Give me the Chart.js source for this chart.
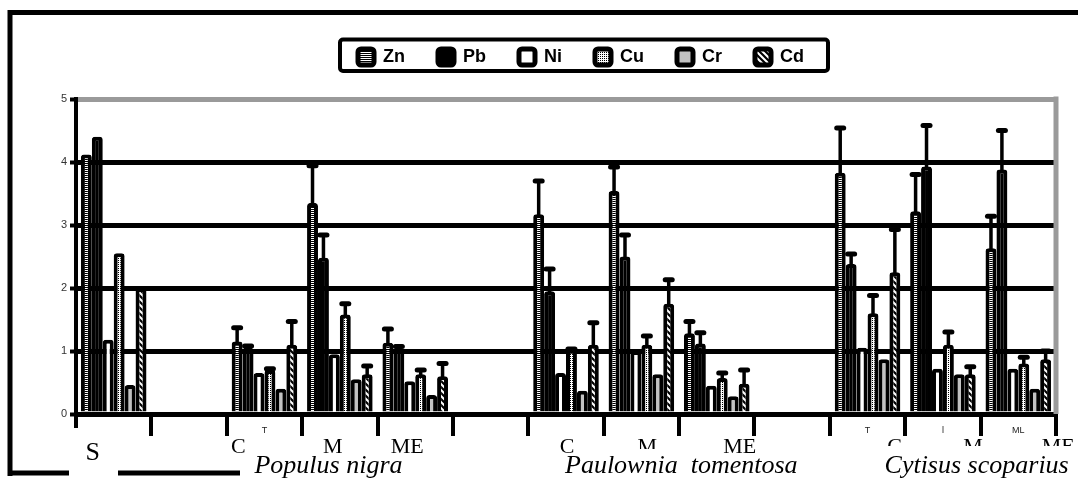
<!DOCTYPE html>
<html>
<head>
<meta charset="utf-8">
<script src="https://cdn.jsdelivr.net/npm/chart.js@4.4.1/dist/chart.umd.min.js"></script>
<style>
  html, body { margin: 0; padding: 0; background: #fff; }
</style>
</head>
<body>
<canvas id="chart_dest" width="1078" height="481"></canvas>
<script>
// categories (empty slots are the gaps between plant groups)
var categories = ['S', '', 'C', 'M', 'ME', '', 'C', 'M', 'ME', '', 'C', 'M', 'ME'];
var smallLabels = ['', '', 'T', '', '', '', '', '', '', '', 'T', 'l', 'ML'];
var groupNames = ['Populus nigra', 'Paulownia  tomentosa', 'Cytisus scoparius'];
var groupFirst = [2, 6, 10];
var metals = ['Zn', 'Pb', 'Ni', 'Cu', 'Cr', 'Cd'];
var yTicks = [0, 1, 2, 3, 4, 5];

// mean values
var zn = [4.12, null, 1.15, 3.35, 1.13, null, 3.17, 3.54, 1.28, null, 3.83, 3.22, 2.63];
var pb = [4.40, null, 1.05, 2.48, 1.02, null, 1.95, 2.50, 1.12, null, 2.38, 3.93, 3.88];
var ni = [1.18, null, 0.65, 0.95, 0.52, null, 0.65, 1.00, 0.45, null, 1.05, 0.72, 0.72];
var cu = [2.55, null, 0.70, 1.58, 0.63, null, 1.02, 1.10, 0.57, null, 1.60, 1.10, 0.80];
var cr = [0.46, null, 0.40, 0.55, 0.30, null, 0.37, 0.63, 0.28, null, 0.87, 0.63, 0.40];
var cd = [2.00, null, 1.10, 0.63, 0.60, null, 1.10, 1.75, 0.48, null, 2.25, 0.63, 0.87];

// error bar lengths
var errZn = [0, 0, 0.22, 0.59, 0.22, 0, 0.53, 0.38, 0.19, 0, 0.71, 0.58, 0.51];
var errPb = [0, 0, 0.03, 0.36, 0.05, 0, 0.35, 0.34, 0.17, 0, 0.16, 0.65, 0.62];
var errNi = [0, 0, 0, 0, 0, 0, 0, 0, 0, 0, 0, 0, 0];
var errCu = [0, 0, 0.02, 0.17, 0.07, 0, 0.01, 0.14, 0.08, 0, 0.28, 0.20, 0.10];
var errCr = [0, 0, 0, 0, 0, 0, 0, 0, 0, 0, 0, 0, 0];
var errCd = [0, 0, 0.37, 0.13, 0.20, 0, 0.35, 0.38, 0.22, 0, 0.68, 0.12, 0.13];
var errors = [errZn, errPb, errNi, errCu, errCr, errCd];

// label placement tweaks (px)
var mainShift = [-21, 0, -26, -7, -8, 0, 1, 6, 23, 0, 27, 30, 40];
var groupShift = [-10, -1, 17];

function makePattern(w, h, draw) {
  var c = document.createElement('canvas');
  c.width = w; c.height = h;
  var g = c.getContext('2d');
  draw(g, w, h);
  return g.createPattern(c, 'repeat');
}

var znFill = makePattern(1, 2, function (g) {
  g.fillStyle = '#000'; g.fillRect(0, 0, 1, 2);
  g.fillStyle = '#fff'; g.fillRect(0, 0, 1, 1);
});
var cuFill = makePattern(2, 2, function (g) {
  g.fillStyle = '#fff'; g.fillRect(0, 0, 2, 2);
  g.fillStyle = '#000'; g.fillRect(0, 0, 1, 1);
});
var cdFill = makePattern(6, 6, function (g) {
  g.fillStyle = '#fff'; g.fillRect(0, 0, 6, 6);
  g.strokeStyle = '#000'; g.lineWidth = 2.2;
  g.beginPath();
  g.moveTo(-1, -1); g.lineTo(7, 7);
  g.moveTo(-4, 2); g.lineTo(4, 10);
  g.moveTo(2, -4); g.lineTo(10, 4);
  g.stroke();
});

var fills = [znFill, '#000', '#fff', cuFill, '#c2c2c2', cdFill];
var series = [zn, pb, ni, cu, cr, cd];

var datasets = metals.map(function (m, i) {
  return {
    label: m,
    data: series[i],
    backgroundColor: fills[i],
    borderColor: '#000',
    borderWidth: 4,
    borderRadius: 3,
    categoryPercentage: 0.87,
    barPercentage: 1.0
  };
});

// error bars drawn from the bar tops
var errorBars = {
  id: 'errorBars',
  afterDatasetsDraw: function (chart) {
    var ctx = chart.ctx, y = chart.scales.y;
    ctx.save();
    ctx.strokeStyle = '#000';
    ctx.lineCap = 'round';
    chart.data.datasets.forEach(function (ds, i) {
      var meta = chart.getDatasetMeta(i);
      meta.data.forEach(function (bar, j) {
        var v = ds.data[j], e = errors[i][j];
        if (v == null || !e) return;
        var top = y.getPixelForValue(v + e);
        ctx.lineWidth = 3.5;
        ctx.beginPath(); ctx.moveTo(bar.x, bar.y); ctx.lineTo(bar.x, top); ctx.stroke();
        ctx.lineWidth = 5;
        ctx.beginPath(); ctx.moveTo(bar.x - 3.5, top); ctx.lineTo(bar.x + 3.5, top); ctx.stroke();
      });
    });
    ctx.restore();
  }
};

// outer frame, gray right edge of the plot
var frame = {
  id: 'frame',
  beforeDraw: function (chart) {
    var ctx = chart.ctx;
    ctx.save();
    ctx.fillStyle = '#fff';
    ctx.fillRect(0, 0, chart.width, chart.height);
    ctx.strokeStyle = '#000';
    ctx.lineWidth = 5;
    ctx.beginPath();
    ctx.moveTo(8, 12.5); ctx.lineTo(chart.width, 12.5);
    ctx.moveTo(10, 10); ctx.lineTo(10, 476);
    ctx.moveTo(8, 473); ctx.lineTo(240, 473);
    ctx.stroke();
    ctx.restore();
  },
  beforeDatasetsDraw: function (chart) {
    var ctx = chart.ctx, a = chart.chartArea;
    ctx.save();
    ctx.strokeStyle = '#9a9a9a';
    ctx.lineWidth = 5;
    ctx.beginPath();
    ctx.moveTo(a.right, a.top - 2.5); ctx.lineTo(a.right, a.bottom);
    ctx.stroke();
    ctx.restore();
  }
};

// move the legend to where it sits in the figure
var legendShift = {
  id: 'legendShift',
  afterLayout: function (chart) {
    var l = chart.legend;
    if (!l) return;
    var shift = 581 - (l.left + l.right) / 2;
    l.left += shift; l.right += shift;
  }
};

var overlay = {
  id: 'overlay',
  afterDraw: function (chart) {
    var ctx = chart.ctx, x = chart.scales.x;
    ctx.save();
    // legend frame
    ctx.strokeStyle = '#000';
    ctx.lineWidth = 4;
    ctx.beginPath();
    ctx.roundRect(340, 39.5, 488, 31.5, 3);
    ctx.stroke();

    // white box behind "S"
    ctx.fillStyle = '#fff';
    ctx.fillRect(69, 428, 49, 53);

    ctx.fillStyle = '#000';
    ctx.textAlign = 'center';
    ctx.textBaseline = 'alphabetic';
    categories.forEach(function (c, i) {
      if (!c) return;
      var px = x.getPixelForValue(i) + mainShift[i];
      if (c === 'S') {
        ctx.font = '26px "Liberation Serif"';
        ctx.fillText(c, px, 460);
      } else {
        ctx.font = '22px "Liberation Serif"';
        ctx.fillText(c, px, 453);
      }
    });

    // text boxes of the species names hide part of some labels
    ctx.fillStyle = '#fff';
    ctx.fillRect(628, 449, 40, 8);
    ctx.fillRect(878, 446, chart.width - 878, 35);

    ctx.fillStyle = '#000';
    ctx.textAlign = 'left';
    ctx.font = 'italic 26px "Liberation Serif"';
    groupNames.forEach(function (g, i) {
      var px = x.getPixelForValue(groupFirst[i]) + groupShift[i];
      ctx.fillText(g, px, 473);
    });
    ctx.restore();
  }
};

var ctx = document.getElementById('chart_dest');

var myChart = new Chart(ctx, {
  type: 'bar',
  data: { labels: categories, datasets: datasets },
  options: {
    responsive: false,
    animation: false,
    layout: { padding: { top: 15, right: 22, left: 0, bottom: 0 } },
    plugins: {
      tooltip: { enabled: false },
      legend: {
        position: 'top',
        labels: {
          boxWidth: 16,
          boxHeight: 16,
          padding: 33,
          color: '#000',
          useBorderRadius: true,
          borderRadius: 3,
          font: { family: 'Liberation Sans', size: 18, weight: 'bold' },
          generateLabels: function (chart) {
            var items = Chart.defaults.plugins.legend.labels.generateLabels(chart);
            items.forEach(function (it) { it.lineWidth = 5; it.strokeStyle = '#000'; });
            return items;
          }
        }
      },
      title: {
        display: true,
        text: '',
        weight: 500,
        padding: { top: 5, bottom: 5 },
        font: { size: 10, lineHeight: 1.3 }
      }
    },
    scales: {
      x: {
        offset: true,
        afterFit: function (s) { s.height = 67; },
        grid: {
          display: true,
          offset: true,
          drawOnChartArea: false,
          drawTicks: true,
          tickLength: 22,
          lineWidth: 4,
          color: '#000'
        },
        border: { display: true, color: '#000', width: 5 },
        ticks: {
          autoSkip: false,
          maxRotation: 0,
          padding: -11,
          color: '#222',
          font: { family: 'Liberation Sans', size: 9 },
          callback: function (v, i) { return smallLabels[i]; }
        }
      },
      y: {
        min: yTicks[0],
        max: yTicks[yTicks.length - 1],
        afterFit: function (s) { s.width = 76; },
        afterBuildTicks: function (s) { s.ticks = yTicks.map(function (v) { return { value: v }; }); },
        grid: {
          color: function (c) { return c.tick && c.tick.value === 5 ? '#9a9a9a' : '#000'; },
          lineWidth: 5,
          tickLength: 6,
          tickColor: '#000',
          tickWidth: 4
        },
        border: { display: true, color: '#000', width: 4 },
        ticks: {
          padding: 3,
          color: '#333',
          font: { family: 'Liberation Sans', size: 11 }
        }
      }
    }
  },
  plugins: [frame, errorBars, legendShift, overlay]
});
</script>
</body>
</html>
